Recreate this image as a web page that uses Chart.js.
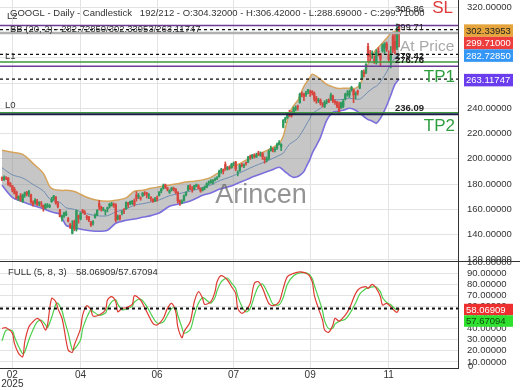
<!DOCTYPE html>
<html><head><meta charset="utf-8">
<script src="https://cdn.jsdelivr.net/npm/chart.js@4.4.1/dist/chart.umd.min.js"></script>
<style>html,body{margin:0;padding:0;background:#fff;}canvas{display:block;}</style>
</head><body>
<canvas id="c" width="520" height="390"></canvas>
<script>
// ---- candle data (bar index 0..192) ----
const opens = [185.0,183.4,185.0,184.8,180.5,178.6,175.8,173.6,168.7,170.8,166.0,171.3,173.2,172.5,171.5,165.5,165.3,166.5,164.8,164.5,163.0,161.0,162.5,162.0,166.0,168.5,169.8,164.8,159.5,152.5,154.5,155.5,152.5,148.0,141.0,150.5,144.0,155.0,152.5,159.0,157.5,154.0,154.0,149.8,149.0,153.5,155.5,164.5,161.5,159.5,158.5,160.5,162.5,163.0,164.0,163.5,152.5,155.0,157.5,160.0,160.5,165.0,164.5,164.5,166.5,171.5,170.0,169.0,171.0,172.5,173.0,171.0,169.5,167.8,166.5,169.0,171.0,174.5,176.5,179.5,177.0,173.5,175.5,176.5,176.0,173.5,166.5,165.3,167.0,171.5,175.0,178.5,176.0,176.0,178.5,178.5,176.5,175.0,177.0,177.5,181.0,181.2,181.5,183.5,184.5,186.0,191.0,191.5,195.5,192.0,193.5,193.0,196.0,197.5,189.0,190.5,195.0,194.5,197.2,197.5,201.6,201.5,203.0,201.5,204.6,203.0,204.0,200.5,199.0,200.0,206.5,207.5,207.0,208.5,211.5,209.5,225.0,231.0,232.5,235.5,235.2,235.5,239.5,241.5,244.5,251.5,251.0,251.0,253.5,253.0,253.4,252.0,248.0,246.0,246.5,243.5,241.5,245.5,246.5,247.0,249.5,245.5,244.5,242.0,240.5,241.5,247.5,251.0,250.5,254.5,254.5,251.0,253.5,256.0,264.0,268.5,268.5,289.0,283.0,282.5,278.5,276.5,285.0,283.0,285.5,288.0,291.0,282.5,279.0,297.0,293.0,288.0,304.32];
const highs = [185.7,186.6,186.0,185.1,181.3,179.0,177.4,174.5,170.6,172.5,172.0,173.7,174.2,175.0,172.0,166.8,168.5,167.8,166.0,166.2,163.5,164.5,164.6,164.0,169.5,171.0,170.0,166.2,160.0,155.5,157.8,158.5,153.5,149.0,151.0,151.5,159.5,155.5,157.5,160.0,159.0,155.2,154.5,150.5,151.0,156.5,159.5,167.0,162.5,161.5,159.5,161.8,164.8,165.5,165.0,164.5,155.5,155.5,158.8,160.5,166.0,165.5,166.5,167.0,168.2,174.0,172.5,169.9,173.2,174.0,173.5,172.5,170.0,168.5,169.5,170.5,174.0,176.5,180.0,180.0,177.5,175.5,177.5,177.5,176.5,174.0,167.5,167.5,171.5,174.0,179.0,179.5,178.0,179.0,180.0,179.5,177.0,177.5,178.5,181.0,182.5,183.5,183.5,185.0,186.0,191.0,192.5,192.0,197.5,194.0,194.5,196.5,197.5,198.0,190.5,195.5,196.5,196.0,197.5,202.0,203.0,203.5,204.0,204.5,206.0,205.5,205.0,201.5,201.5,207.0,210.0,208.5,209.0,212.5,214.5,212.0,231.0,233.0,236.0,238.5,237.5,241.0,242.0,242.5,252.0,253.0,252.0,253.5,255.0,254.5,254.0,253.0,249.5,248.0,247.5,244.5,246.0,247.0,247.5,252.0,250.5,246.5,245.5,245.0,245.0,247.0,252.0,254.0,254.5,257.5,255.0,253.0,254.5,260.5,270.0,270.5,275.5,291.5,286.0,285.5,281.5,286.5,288.0,283.5,291.0,292.0,292.5,285.5,289.0,300.0,299.0,306.86,306.42];
const lows = [182.6,182.8,183.5,178.9,177.8,173.8,172.0,168.2,166.8,166.3,165.5,169.5,170.6,170.0,164.6,162.5,164.0,163.0,162.8,162.0,158.5,160.2,161.5,161.2,165.5,167.2,164.0,161.0,154.0,150.6,153.5,155.0,150.0,144.7,140.5,143.0,142.7,149.0,151.5,157.0,155.8,151.8,150.2,146.5,147.5,153.0,155.0,159.5,158.5,158.8,155.5,158.0,161.0,162.5,161.5,150.0,151.5,151.3,155.5,156.5,160.0,161.5,163.5,163.8,162.5,166.5,168.5,167.2,170.0,171.0,169.0,168.5,166.5,165.5,166.0,166.5,170.5,173.0,176.0,176.5,174.5,172.5,174.5,174.5,172.5,165.0,163.0,164.5,166.5,170.5,174.5,175.5,173.5,175.5,177.8,176.0,173.5,174.5,175.5,177.0,179.5,180.5,180.0,182.5,183.5,185.5,188.5,188.0,191.0,191.0,191.5,192.5,194.5,190.5,186.5,190.0,193.5,193.0,195.0,197.0,199.5,200.0,200.5,201.0,202.5,202.0,199.5,196.5,197.5,199.5,206.0,205.5,205.5,207.5,211.0,206.5,224.5,228.5,232.0,233.5,233.0,235.0,238.0,238.5,244.0,249.0,246.0,249.5,251.5,249.5,250.5,245.5,244.0,244.5,242.5,241.0,240.5,243.5,244.5,246.5,244.5,243.0,240.5,235.5,240.0,240.5,246.5,249.5,248.5,253.5,244.5,247.5,250.5,255.5,263.5,265.0,267.5,277.0,277.5,279.5,275.5,275.0,281.5,273.5,284.5,283.5,285.0,276.5,272.0,284.0,283.0,286.5,288.69];
const closes = [183.8,185.3,184.6,179.7,179.3,175.4,172.7,168.5,170.3,167.0,171.0,173.0,172.0,173.9,165.9,164.0,167.1,163.6,165.5,164.3,160.7,163.9,162.8,163.0,167.7,170.6,165.1,162.2,154.3,154.6,157.1,157.0,150.7,145.6,146.8,144.7,158.7,153.0,157.1,158.0,156.3,153.3,151.2,147.7,150.0,155.4,159.3,161.9,160.6,160.2,158.8,161.3,164.0,164.2,163.2,151.4,154.3,152.8,158.5,159.5,165.4,163.9,166.2,166.5,163.9,168.6,170.9,168.5,172.9,172.4,171.9,171.7,169.0,166.2,168.0,168.2,173.7,176.0,178.6,177.4,175.7,174.7,176.8,175.9,173.3,166.6,165.2,166.0,170.7,173.5,178.5,176.2,175.8,178.6,179.5,176.8,174.4,176.6,177.6,180.2,181.6,182.0,183.0,183.6,185.0,190.0,191.3,190.2,192.2,193.2,192.6,195.8,196.5,191.9,189.1,195.0,194.7,195.0,196.5,201.4,200.9,203.0,202.0,202.9,203.9,203.5,201.6,199.3,199.8,206.0,208.5,207.1,207.5,211.6,212.9,211.4,230.7,232.3,235.0,234.0,234.4,239.6,240.4,240.8,251.2,251.0,249.5,252.0,254.7,252.5,252.3,247.1,245.8,246.5,244.0,243.1,244.9,245.7,245.3,250.4,245.8,244.6,241.5,236.6,244.2,245.5,251.0,251.5,253.3,256.6,250.5,251.7,252.5,259.9,269.3,267.5,274.6,281.5,281.2,283.7,277.5,284.3,284.8,278.8,290.1,291.3,286.7,278.6,283.0,286.0,287.0,303.5,299.71];

// ---- Bollinger Bands (20, 2), read at sample bars ----
const bbBars = [0,5,10,15,20,23,25,28,31,34,36,41,46,51,55,60,64,68,72,76,81,85,89,93,97,101,105,110,114,118,122,126,130,134,136,137,139,141,143,144,146,147,149,150,152,154,157,160,162,165,168,171,173,175,177,178,180,181,183,185,186,188,190,192];
const bbUpper = [206.7,205.1,203.5,196.4,188.5,178.2,175.8,175.0,175.0,174.5,173.5,169.5,167.1,166.3,167.1,169.0,174.3,175.0,176.6,177.8,179.2,180.3,181.6,182.3,183.3,185.3,189.3,192.8,195.5,199.0,202.3,205.0,208.3,212.0,218.0,224.2,236.0,242.0,246.3,250.0,257.4,260.0,264.6,266.9,265.5,263.0,259.0,257.0,255.8,255.8,255.8,256.0,258.5,266.0,274.9,278.0,284.4,286.5,290.0,293.8,295.5,299.4,301.0,302.33953];
const bbMiddle = [192.9,187.3,184.8,179.7,174.5,168.3,166.7,165.5,161.2,160.3,159.3,156.5,154.9,154.9,158.0,160.2,163.3,164.4,165.8,167.4,170.8,172.2,173.6,175.2,177.2,179.2,182.6,185.4,188.1,191.2,194.2,196.8,199.6,202.7,204.5,206.9,211.5,213.7,216.2,218.5,223.7,226.7,232.3,235.6,238.0,240.0,244.8,246.9,246.7,247.1,247.9,247.3,247.3,249.8,253.0,254.3,256.7,257.3,261.0,266.1,268.8,274.9,280.0,282.7285];
const bbLower = [179.0,169.5,166.0,163.0,160.5,158.4,157.5,156.0,147.3,146.0,145.0,143.4,142.6,143.4,148.9,151.3,152.3,153.7,155.0,157.0,162.4,164.0,165.5,168.0,171.1,173.0,175.8,178.0,180.6,183.3,186.1,188.5,190.9,193.3,191.0,189.5,187.0,185.3,186.0,186.9,190.0,193.3,200.0,204.3,210.5,217.0,230.5,236.8,237.5,238.4,240.0,238.5,236.0,233.5,231.0,230.5,229.0,228.1,232.0,238.4,242.0,250.3,259.0,263.11747];

// ---- Stochastic FULL (5, 8, 3), read at sample bars ----
const stochBars = [0,2,5,6,8,10,11,13,15,17,19,21,22,24,26,27,29,30,32,34,35,38,39,41,43,44,47,50,51,53,55,56,58,60,63,64,67,70,73,75,78,80,82,84,85,87,88,91,93,95,97,98,101,103,104,106,109,111,113,114,116,118,120,122,124,126,129,131,134,136,138,141,144,148,150,151,153,155,156,158,160,161,163,166,168,171,173,176,177,179,181,183,184,186,188,189,191,192];
const stochK = [40.3,40.8,35.8,26.8,17.8,14.7,28.2,41.7,46.2,49.3,46.2,38.7,43.2,67.2,64.2,58.2,49.3,40.3,20.8,18.7,25.3,40.3,52.2,60.6,56.7,51.3,52.2,56.7,65.7,68.7,64.2,55.2,58.2,58.8,61.8,69.6,65.7,55.2,44.8,43.2,49.3,58.2,62.7,55.2,41.7,31.8,37.2,46.2,64.2,73.2,67.2,61.8,64.2,73.2,82.2,87.6,83.7,77.7,71.7,58.2,53.8,56.7,62.7,80.7,82.2,76.2,62.7,60.6,64.2,76.2,86.7,89.7,91.1,88.8,82.2,70.2,58.2,47.7,38.7,36.7,43.2,49.3,46.8,52.2,58.2,71.7,76.2,77.7,76.2,79.8,76.2,68.7,61.2,62.7,59.7,57.6,54.6,58.06909];
const stochD = [29.0,38.5,38.0,33.0,24.0,17.5,19.0,30.0,39.0,46.0,47.5,43.5,41.0,50.0,62.0,63.0,56.0,49.0,36.0,21.0,21.5,30.0,40.0,50.0,57.0,55.5,52.0,54.0,58.0,64.0,66.0,62.0,57.0,57.5,60.0,64.0,66.5,60.0,50.0,45.0,46.0,52.0,58.0,58.5,52.0,41.0,36.0,39.0,52.0,63.0,68.0,67.0,63.0,68.0,74.0,82.0,85.5,81.0,76.0,69.0,60.0,55.0,58.0,69.0,78.0,80.0,70.0,62.0,61.5,68.0,80.0,87.5,90.0,89.5,85.0,79.0,68.0,56.0,47.0,40.0,40.5,44.0,46.5,48.5,53.0,63.0,71.0,76.0,76.5,77.5,77.5,73.0,68.0,63.5,61.5,59.5,57.0,57.67094];

// ---- levels & axis ticks ----
const slLevel = 305.5;
const l1Levels = [276.76, 273.4];
const l0Levels = [236.6, 235.2];
const priceMarks = [306.86, 299.71, 279.42, 276.76, 236.09];
const priceTicks = [120,140,160,180,200,220,240,260,280,300,320];
const stochTicks = [10,20,30,40,50,60,70,80,90,100];
const tickBars = [5,38,75,112,149,187];
const tickLabels = [['02','2025'],'04','06','07','09','11'];

const F = '"Liberation Sans", Arial, sans-serif';
const UP = '#2f9a5f', DN = '#d8463f';
const last = closes.length - 1;
const idx = closes.map((_, i) => i);
const colors = idx.map(i => closes[i] >= opens[i] ? UP : DN);
const bbLast = [bbMiddle[bbMiddle.length-1], bbUpper[bbUpper.length-1], bbLower[bbLower.length-1]];
const stLast = [stochK[stochK.length-1], stochD[stochD.length-1]];
const pts = (xs, ys) => xs.map((b, i) => ({x: b, y: ys[i]}));

const overlay = {
  id: 'overlay',
  afterDatasetsDraw(chart) {
    const {ctx, chartArea: a, scales: {y, y2}} = chart;
    const hl = (py, color, w, dash) => {
      ctx.save(); ctx.beginPath(); ctx.setLineDash(dash || []);
      ctx.strokeStyle = color; ctx.lineWidth = w;
      ctx.moveTo(a.left, py); ctx.lineTo(a.right, py); ctx.stroke(); ctx.restore();
    };
    hl(y.getPixelForValue(slLevel), '#6c3b96', 1.5);
    hl(y.getPixelForValue(closes[last]), '#b0b0b0', 2.5);
    hl(y.getPixelForValue(bbLast[1]), '#111', 1.3, [3, 3]);
    hl(y.getPixelForValue(bbLast[0]), '#111', 1.3, [3, 3]);
    hl(y.getPixelForValue(l1Levels[0]), '#3c9a3c', 1.5);
    hl(y.getPixelForValue(l1Levels[1]), '#6c3b96', 1.5);
    hl(y.getPixelForValue(bbLast[2]), '#111', 1.3, [3, 3]);
    hl(y.getPixelForValue(l0Levels[0]), '#3c9a3c', 1.2);
    hl(y.getPixelForValue(l0Levels[1]), '#1c1c4a', 2);
    hl(y2.getPixelForValue(stLast[0]), '#111', 2, [3, 3]);
  },
  afterDraw(chart) {
    const {ctx, chartArea: a, scales: {x, y, y2}} = chart;
    const t = (s, px, py, font, color, align, base) => {
      ctx.save(); ctx.font = font; ctx.fillStyle = color;
      ctx.textAlign = align || 'left'; ctx.textBaseline = base || 'middle';
      ctx.fillText(s, px, py); ctx.restore();
    };
    const f = (sz, b) => (b ? 'bold ' : '') + sz + 'px ' + F;
    ctx.save(); ctx.strokeStyle = '#333'; ctx.lineWidth = 1; ctx.beginPath();
    const sep = Math.round(y.bottom) + 0.5;
    ctx.moveTo(0, sep); ctx.lineTo(520, sep); ctx.stroke(); ctx.restore();
    t('Arincen', 261, 203, f(27), 'rgba(105,105,105,0.72)', 'center', 'alphabetic');
    t('GOOGL - Daily - Candlestick   ' + (last) + '/212 - O:' + opens[last].toFixed(5) + ' - H:' + highs[last].toFixed(5) + ' - L:' + lows[last].toFixed(5) + ' - C:' + closes[last].toFixed(5), 10, 13, f(9.5), '#333');
    t('L2', 7, 16, f(9.5), '#333');
    t('BB (20, 2) - ' + bbLast[0].toFixed(5) + '/' + bbLast[1].toFixed(5) + '/' + bbLast[2].toFixed(5), 10, 29, f(9.5), '#333');
    t('L1', 5, 56, f(9.5), '#333');
    t('L0', 5, 105.5, f(9.5), '#333');
    const mx = x.getPixelForValue(last - 2);
    const offs = [-15, -6, -2, -2, -5];
    priceMarks.forEach((v, i) => t(v.toFixed(2), mx, y.getPixelForValue(v) + offs[i], f(9.5, i >= 2), '#222'));
    t('SL', 453, 12.5, f(17), '#e03a3a', 'right', 'alphabetic');
    t('At Price', 400, 47, f(15.5), 'rgba(140,140,140,0.75)');
    t('TP1', 455, 82, f(17), '#2f9e3f', 'right', 'alphabetic');
    t('TP2', 455, 131, f(17), '#2f9e3f', 'right', 'alphabetic');
    t('FULL (5, 8, 3)', 8, 272.5, f(9.5), '#333');
    t(stLast[0].toFixed(5) + '/' + stLast[1].toFixed(5), 76, 272.5, f(9.5), '#333');
    t('0', 468, 366, f(9.5), '#333');
    const tags = (list) => {
      let prev = -1e9;
      list.map(o => ({...o, py: o.sc.getPixelForValue(o.v) + 1}))
        .sort((p, q) => p.py - q.py)
        .forEach(o => {
          let py = Math.max(o.py, prev + o.h);
          prev = py;
          ctx.save(); ctx.fillStyle = o.bg; ctx.fillRect(464, py - o.h / 2, 49, o.h);
          ctx.font = f(9.5); ctx.fillStyle = o.fg; ctx.textBaseline = 'middle'; ctx.textAlign = 'left';
          ctx.fillText(o.v.toFixed(5), 466, py + 0.5); ctx.restore();
        });
    };
    tags([
      {v: bbLast[1], sc: y, bg: '#e6a53c', fg: '#222', h: 12.5},
      {v: closes[last], sc: y, bg: '#ee3d3d', fg: '#fff', h: 12.5},
      {v: bbLast[0], sc: y, bg: '#3597f5', fg: '#fff', h: 12.5},
      {v: bbLast[2], sc: y, bg: '#6a3ded', fg: '#fff', h: 12.5}
    ]);
    tags([
      {v: stLast[0], sc: y2, bg: '#ee2f2f', fg: '#fff', h: 11.5},
      {v: stLast[1], sc: y2, bg: '#2fe02f', fg: '#0d4a0d', h: 11.5}
    ]);
  }
};

const noPad = s => { s.paddingTop = 0; s.paddingBottom = 0; s.paddingLeft = 0; s.paddingRight = 0; };

new Chart(document.getElementById('c'), {
  type: 'line',
  data: {
    datasets: [
      {data: pts(bbBars, bbUpper), yAxisID: 'y', borderColor: '#d6a45c', borderWidth: 1.5, pointRadius: 0, tension: 0.3,
       fill: 2, backgroundColor: 'rgba(135,135,135,0.48)', order: 7},
      {data: pts(bbBars, bbMiddle), yAxisID: 'y', borderColor: '#6f8db2', borderWidth: 1, pointRadius: 0, tension: 0.3, fill: false, order: 6},
      {data: pts(bbBars, bbLower), yAxisID: 'y', borderColor: '#7a6fdc', borderWidth: 1.6, pointRadius: 0, tension: 0.3, fill: false, order: 6},
      {type: 'bar', data: idx.map(i => ({x: i, y: [lows[i], highs[i]]})), yAxisID: 'y', backgroundColor: colors,
       barThickness: 1, grouped: false, borderWidth: 0, order: 3},
      {type: 'bar', data: idx.map(i => ({x: i, y: [opens[i], closes[i]]})), yAxisID: 'y', backgroundColor: colors,
       barThickness: 1.7, grouped: false, borderWidth: 0, order: 2},
      {data: pts(stochBars, stochD), yAxisID: 'y2', borderColor: '#4ccf4c', borderWidth: 1.2, pointRadius: 0, tension: 0.3, fill: false, order: 1},
      {data: pts(stochBars, stochK), yAxisID: 'y2', borderColor: '#dd3b33', borderWidth: 1.2, pointRadius: 0, tension: 0.3, fill: false, order: 0}
    ]
  },
  options: {
    responsive: false, animation: false, events: [],
    layout: {padding: 0},
    plugins: {legend: {display: false}, tooltip: {enabled: false}},
    scales: {
      x: {
        type: 'linear', min: -0.97, max: 220.5, offset: false, position: 'bottom',
        grid: {color: '#e3e3e3', drawTicks: false, offset: false},
        border: {display: true, color: '#333'},
        ticks: {autoSkip: false, maxRotation: 0, padding: 3, color: '#333',
                font: {family: F, size: 10, lineHeight: 0.85}, callback: (v, i) => tickLabels[i]},
        afterBuildTicks: s => { s.ticks = tickBars.map(v => ({value: v})); },
        afterFit: s => { s.height = 22; noPad(s); }
      },
      y: {
        type: 'linear', position: 'right', stack: 'p', stackWeight: 261, min: 119.05, max: 325.78,
        grid: {color: '#e3e3e3', drawTicks: false},
        border: {display: true, color: '#333'},
        ticks: {autoSkip: false, padding: 9, color: '#333', font: {family: F, size: 9.5}, callback: v => Number(v).toFixed(5)},
        afterBuildTicks: s => { s.ticks = priceTicks.map(v => ({value: v})); },
        afterFit: s => { s.width = 62; noPad(s); }
      },
      y2: {
        type: 'linear', position: 'right', stack: 'p', stackWeight: 107, min: 4.6, max: 100.8,
        grid: {color: '#e3e3e3', drawTicks: false},
        border: {display: true, color: '#333'},
        ticks: {autoSkip: false, padding: 9, color: '#333', font: {family: F, size: 9.5}, callback: v => Number(v).toFixed(5)},
        afterBuildTicks: s => { s.ticks = stochTicks.map(v => ({value: v})); },
        afterFit: s => { s.width = 62; noPad(s); }
      }
    }
  },
  plugins: [overlay]
});
</script>
</body></html>
